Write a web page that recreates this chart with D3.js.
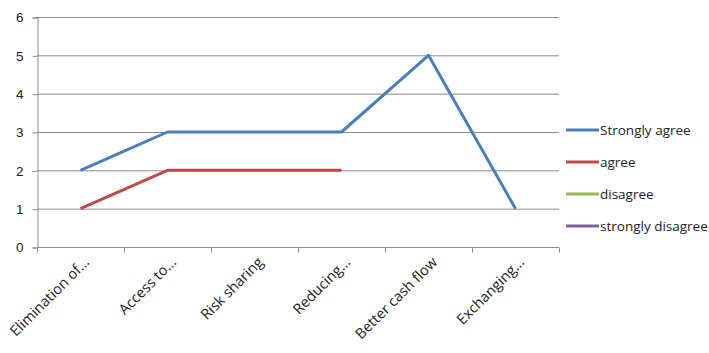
<!DOCTYPE html>
<html>
<head>
<meta charset="utf-8">
<script src="https://cdn.jsdelivr.net/npm/d3@7"></script>
<style>
  html, body { margin: 0; padding: 0; background: #fff; }
  svg { display: block; font-family: "Open Sans", "Noto Sans", sans-serif; }
</style>
</head>
<body>
<svg id="chart" width="709" height="353"></svg>
<script>
// Categories along the x axis
const categories = ["Elimination of...", "Access to...", "Risk sharing", "Reducing...", "Better cash flow", "Exchanging..."];

// Response counts per category (null = no value recorded)
const stronglyAgree    = [2, 3, 3, 3, 5, 1];
const agree            = [1, 2, 2, 2, null, null];
const disagree         = [null, null, null, null, null, null];
const stronglyDisagree = [null, null, null, null, null, null];

const seriesNames  = ["Strongly agree", "agree", "disagree", "strongly disagree"];
const seriesColors = ["#4a7ebb", "#be4b48", "#98b954", "#7d60a0"];
const yTicks = [0, 1, 2, 3, 4, 5, 6];

const seriesData = [stronglyAgree, agree, disagree, stronglyDisagree];

const svg = d3.select("#chart");
const plot = { left: 37, right: 559, top: 17, bottom: 247 };

const x = d3.scaleBand().domain(categories).range([plot.left, plot.right]);
const y = d3.scaleLinear().domain([0, 6]).range([plot.bottom, plot.top]);

// Horizontal gridlines
svg.append("g")
  .selectAll("line")
  .data(yTicks.filter(t => t > 0))
  .join("line")
  .attr("x1", plot.left).attr("x2", plot.right)
  .attr("y1", d => y(d) + 0.5).attr("y2", d => y(d) + 0.5)
  .attr("stroke", "#8c8c8c").attr("stroke-width", 1);

// Y axis
const yAxis = svg.append("g")
  .attr("transform", `translate(${plot.left + 0.5},0.5)`)
  .call(d3.axisLeft(y).tickValues(yTicks).tickFormat(d3.format("d")).tickSize(5).tickPadding(9));
yAxis.select(".domain").attr("stroke", "#8c8c8c");
yAxis.selectAll(".tick line").attr("stroke", "#8c8c8c");
yAxis.selectAll("text").attr("font-size", 13.5).attr("fill", "#222");

// X axis with ticks on band boundaries
const xAxisG = svg.append("g").attr("transform", `translate(0,${plot.bottom + 0.5})`);
xAxisG.append("line")
  .attr("x1", plot.left).attr("x2", plot.right)
  .attr("stroke", "#8c8c8c");
const boundaries = categories.map(c => x(c)).concat([x.range()[1]]);
xAxisG.selectAll("line.tick")
  .data(boundaries)
  .join("line")
  .attr("class", "tick")
  .attr("x1", d => Math.round(d) + 0.5).attr("x2", d => Math.round(d) + 0.5)
  .attr("y1", 0).attr("y2", 5)
  .attr("stroke", "#8c8c8c");
xAxisG.selectAll("text")
  .data(categories)
  .join("text")
  .attr("transform", d => `translate(${x(d) + x.bandwidth() / 2 + 6},${12}) rotate(-45)`)
  .attr("text-anchor", "end")
  .attr("dy", "0.35em")
  .attr("font-size", 14.5)
  .attr("fill", "#222")
  .text(d => d);

// Series lines
const line = d3.line()
  .defined(d => d.v !== null)
  .x(d => x(d.c) + x.bandwidth() / 2)
  .y(d => y(d.v));

seriesData.forEach((vals, i) => {
  svg.append("path")
    .datum(vals.map((v, j) => ({ c: categories[j], v })))
    .attr("fill", "none")
    .attr("stroke", seriesColors[i])
    .attr("stroke-width", 3)
    .attr("stroke-linejoin", "round")
    .attr("d", line);
});

// Legend
const legend = svg.append("g").attr("transform", "translate(566,130)");
const rows = legend.selectAll("g")
  .data(seriesNames)
  .join("g")
  .attr("transform", (d, i) => `translate(0,${i * 32})`);
rows.append("line")
  .attr("x1", 0).attr("x2", 33)
  .attr("stroke", (d, i) => seriesColors[i])
  .attr("stroke-width", 3);
rows.append("text")
  .attr("x", 34).attr("dy", "0.35em")
  .attr("font-size", 13.5)
  .attr("fill", "#222")
  .text(d => d);
</script>
</body>
</html>
